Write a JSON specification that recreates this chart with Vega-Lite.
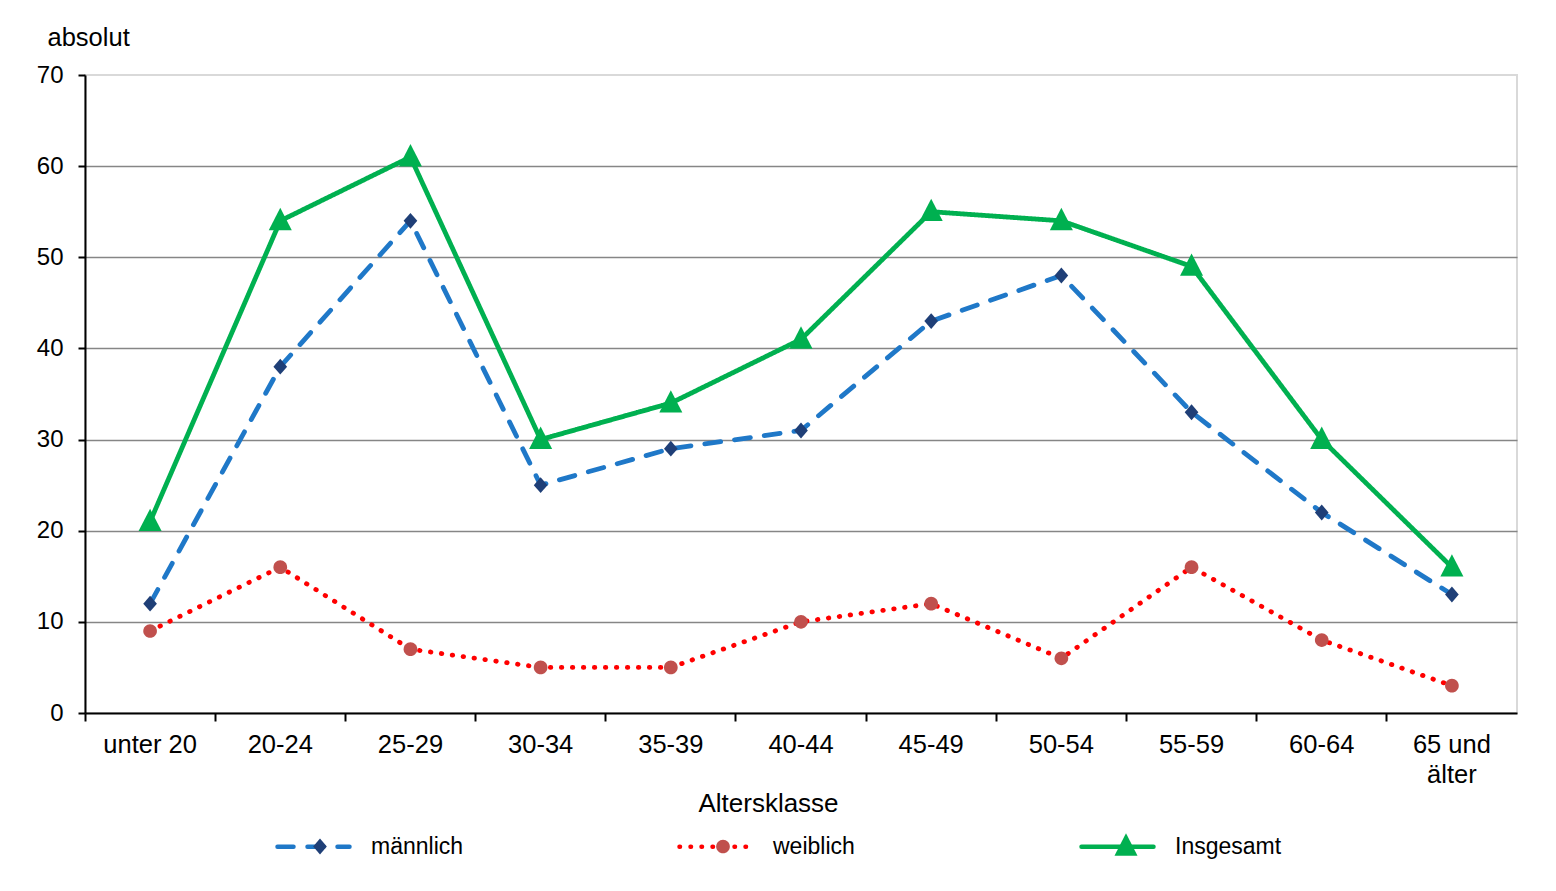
{
  "$schema": "https://vega.github.io/schema/vega-lite/v6.json",
  "width": 1432,
  "height": 638,
  "autosize": "none",
  "padding": {"left": 85, "top": 75, "right": 39, "bottom": 178},
  "background": "white",
  "config": {
    "font": "Liberation Sans",
    "view": {"stroke": "#D9D9D9", "strokeWidth": 2}
  },
  "data": {
    "values": [
      {"Altersklasse": "unter 20", "Geschlecht": "männlich", "Anzahl": 12},
      {"Altersklasse": "20-24", "Geschlecht": "männlich", "Anzahl": 38},
      {"Altersklasse": "25-29", "Geschlecht": "männlich", "Anzahl": 54},
      {"Altersklasse": "30-34", "Geschlecht": "männlich", "Anzahl": 25},
      {"Altersklasse": "35-39", "Geschlecht": "männlich", "Anzahl": 29},
      {"Altersklasse": "40-44", "Geschlecht": "männlich", "Anzahl": 31},
      {"Altersklasse": "45-49", "Geschlecht": "männlich", "Anzahl": 43},
      {"Altersklasse": "50-54", "Geschlecht": "männlich", "Anzahl": 48},
      {"Altersklasse": "55-59", "Geschlecht": "männlich", "Anzahl": 33},
      {"Altersklasse": "60-64", "Geschlecht": "männlich", "Anzahl": 22},
      {"Altersklasse": "65 und älter", "Geschlecht": "männlich", "Anzahl": 13},
      {"Altersklasse": "unter 20", "Geschlecht": "weiblich", "Anzahl": 9},
      {"Altersklasse": "20-24", "Geschlecht": "weiblich", "Anzahl": 16},
      {"Altersklasse": "25-29", "Geschlecht": "weiblich", "Anzahl": 7},
      {"Altersklasse": "30-34", "Geschlecht": "weiblich", "Anzahl": 5},
      {"Altersklasse": "35-39", "Geschlecht": "weiblich", "Anzahl": 5},
      {"Altersklasse": "40-44", "Geschlecht": "weiblich", "Anzahl": 10},
      {"Altersklasse": "45-49", "Geschlecht": "weiblich", "Anzahl": 12},
      {"Altersklasse": "50-54", "Geschlecht": "weiblich", "Anzahl": 6},
      {"Altersklasse": "55-59", "Geschlecht": "weiblich", "Anzahl": 16},
      {"Altersklasse": "60-64", "Geschlecht": "weiblich", "Anzahl": 8},
      {"Altersklasse": "65 und älter", "Geschlecht": "weiblich", "Anzahl": 3},
      {"Altersklasse": "unter 20", "Geschlecht": "Insgesamt", "Anzahl": 21},
      {"Altersklasse": "20-24", "Geschlecht": "Insgesamt", "Anzahl": 54},
      {"Altersklasse": "25-29", "Geschlecht": "Insgesamt", "Anzahl": 61},
      {"Altersklasse": "30-34", "Geschlecht": "Insgesamt", "Anzahl": 30},
      {"Altersklasse": "35-39", "Geschlecht": "Insgesamt", "Anzahl": 34},
      {"Altersklasse": "40-44", "Geschlecht": "Insgesamt", "Anzahl": 41},
      {"Altersklasse": "45-49", "Geschlecht": "Insgesamt", "Anzahl": 55},
      {"Altersklasse": "50-54", "Geschlecht": "Insgesamt", "Anzahl": 54},
      {"Altersklasse": "55-59", "Geschlecht": "Insgesamt", "Anzahl": 49},
      {"Altersklasse": "60-64", "Geschlecht": "Insgesamt", "Anzahl": 30},
      {"Altersklasse": "65 und älter", "Geschlecht": "Insgesamt", "Anzahl": 16}
    ]
  },
  "encoding": {
    "x": {
      "field": "Altersklasse",
      "type": "nominal",
      "sort": ["unter 20", "20-24", "25-29", "30-34", "35-39", "40-44", "45-49", "50-54", "55-59", "60-64", "65 und älter"],
      "scale": {"type": "band", "paddingInner": 0, "paddingOuter": 0},
      "axis": {
        "title": "Altersklasse",
        "labelAngle": 0,
        "bandPosition": 0,
        "grid": false,
        "domainColor": "black",
        "domainWidth": 2,
        "tickColor": "black",
        "tickWidth": 2,
        "tickSize": 8,
        "labelFontSize": 25.5,
        "labelColor": "black",
        "labelPadding": 11,
        "labelBaseline": "top",
        "labelOverlap": false,
        "labelExpr": "datum.value == '65 und älter' ? ['65 und', 'älter'] : datum.value",
        "labelLineHeight": 30,
        "titleFontSize": 26,
        "titleFontWeight": "normal",
        "titleColor": "black",
        "titleX": 683,
        "titleY": 98,
        "titleAlign": "center",
        "titleBaseline": "alphabetic"
      }
    },
    "y": {
      "field": "Anzahl",
      "type": "quantitative",
      "scale": {"domain": [0, 70], "nice": false},
      "axis": {
        "title": "absolut",
        "titleAngle": 0,
        "titleAlign": "left",
        "titleBaseline": "alphabetic",
        "titleX": -38,
        "titleY": -30,
        "titleFontSize": 25.5,
        "titleFontWeight": "normal",
        "titleColor": "black",
        "values": [0, 10, 20, 30, 40, 50, 60, 70],
        "grid": true,
        "gridColor": {"condition": {"test": "datum.value == 70 || datum.value == 0", "value": "transparent"}, "value": "#868686"},
        "gridWidth": 1.5,
        "domainColor": "black",
        "domainWidth": 2,
        "tickColor": "black",
        "tickWidth": 2,
        "tickSize": 7,
        "labelFontSize": 24,
        "labelColor": "black",
        "labelPadding": 15
      }
    }
  },
  "resolve": {
    "scale": {"color": "independent", "strokeDash": "independent", "shape": "independent"},
    "legend": {"color": "independent", "strokeDash": "independent", "shape": "independent"}
  },
  "layer": [
    {
      "mark": {"type": "line", "strokeWidth": 4.8, "strokeCap": "round"},
      "encoding": {
        "color": {
          "field": "Geschlecht",
          "type": "nominal",
          "scale": {"domain": ["männlich", "weiblich", "Insgesamt"], "range": ["#1F78C8", "#FF0000", "#00B050"]},
          "legend": {
            "title": null,
            "orient": "none",
            "legendX": 190,
            "legendY": 733,
            "direction": "horizontal",
            "columns": 3,
            "gridAlign": "all",
            "columnPadding": 192,
            "padding": 0,
            "symbolType": "stroke",
            "symbolSize": 5184,
            "symbolStrokeWidth": 4.5,
            "labelFontSize": 23,
            "labelColor": "black",
            "labelOffset": 19,
            "labelLimit": 300,
            "labelBaseline": "middle",
            "encode": {"symbols": {"update": {"strokeCap": {"value": "round"}}}}
          }
        },
        "strokeDash": {
          "field": "Geschlecht",
          "type": "nominal",
          "scale": {"domain": ["männlich", "weiblich", "Insgesamt"], "range": [[16, 14], [0.5, 10.5], [1, 0]]},
          "legend": {
            "title": null,
            "orient": "none",
            "legendX": 190,
            "legendY": 733,
            "direction": "horizontal",
            "columns": 3,
            "gridAlign": "all",
            "columnPadding": 192,
            "padding": 0,
            "symbolType": "stroke",
            "symbolSize": 5184,
            "symbolStrokeWidth": 4.5,
            "labelFontSize": 23,
            "labelColor": "black",
            "labelOffset": 19,
            "labelLimit": 300,
            "labelBaseline": "middle"
          }
        }
      }
    },
    {
      "mark": {"type": "point", "filled": true, "opacity": 1, "size": 5184},
      "encoding": {
        "color": {
          "field": "Geschlecht",
          "type": "nominal",
          "scale": {"domain": ["männlich", "weiblich", "Insgesamt"], "range": ["#1F3F77", "#C0504D", "#00B050"]},
          "legend": {
            "title": null,
            "orient": "none",
            "legendX": 190,
            "legendY": 734,
            "direction": "horizontal",
            "columns": 3,
            "gridAlign": "all",
            "columnPadding": 192,
            "padding": 0,
            "symbolSize": 5184,
            "symbolOffset": 8,
            "symbolStrokeWidth": 1.5,
            "symbolOpacity": 1,
            "labelFontSize": 23,
            "labelOpacity": 0,
            "labelOffset": 22,
            "labelLimit": 300,
            "labelBaseline": "middle"
          }
        },
        "shape": {
          "field": "Geschlecht",
          "type": "nominal",
          "scale": {"domain": ["männlich", "weiblich", "Insgesamt"], "range": [
            "M0,-0.22L0.19,0L0,0.22L-0.19,0Z",
            "M0.19,0A0.19,0.19,0,1,1,-0.19,0A0.19,0.19,0,1,1,0.19,0Z",
            "M0,-0.36L0.32,0.26L-0.32,0.26Z"
          ]},
          "legend": {
            "title": null,
            "orient": "none",
            "legendX": 190,
            "legendY": 734,
            "direction": "horizontal",
            "columns": 3,
            "gridAlign": "all",
            "columnPadding": 192,
            "padding": 0,
            "symbolSize": 5184,
            "symbolOffset": 8,
            "symbolStrokeWidth": 1.5,
            "symbolOpacity": 1,
            "labelFontSize": 23,
            "labelOpacity": 0,
            "labelOffset": 22,
            "labelLimit": 300,
            "labelBaseline": "middle"
          }
        }
      }
    }
  ]
}
